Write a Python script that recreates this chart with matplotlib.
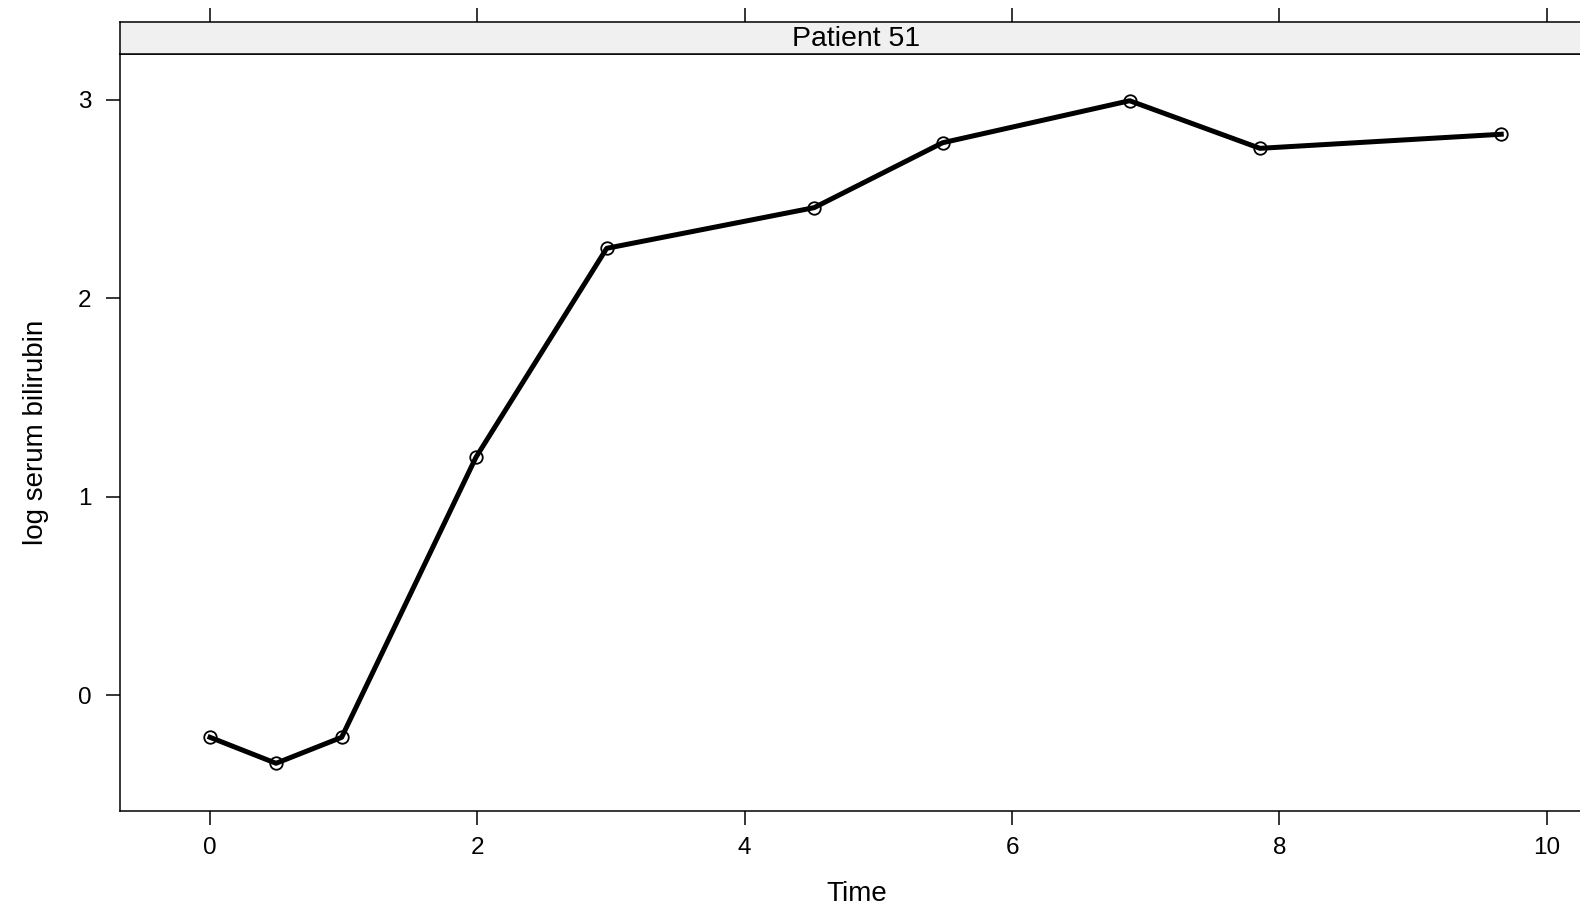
import matplotlib
matplotlib.use("Agg")
import matplotlib.pyplot as plt

# Data (Patient 51)
time = [0.0, 0.494, 0.985, 1.99, 2.968, 4.52, 5.48, 6.88, 7.855, 9.66]
log_bili = [-0.213, -0.344, -0.213, 1.199, 2.252, 2.457, 2.784, 2.996, 2.756, 2.827]
xticks = [0, 2, 4, 6, 8, 10]
yticks = [0, 1, 2, 3]
panel_title = "Patient 51"
xlabel = "Time"
ylabel = "log serum bilirubin"

plt.rcParams['font.family'] = ['Liberation Sans', 'DejaVu Sans']

W, H = 1580, 906
fig = plt.figure(figsize=(W / 100, H / 100), dpi=100)

left = 119.5 / W
right_px = 1593.5
bottom = (H - 810.7) / H
top = (H - 54.3) / H
strip_top = (H - 21.7) / H

ax = fig.add_axes([left, bottom, (right_px - 119.5) / W, top - bottom])
ax.plot(time, log_bili, color='black', linewidth=3.6, marker='o',
        markersize=9, markerfacecolor='none', markeredgecolor='black',
        markeredgewidth=1.3, zorder=3)
ax.set_xlim(-0.677, 10.35)
ax.set_ylim(-0.583, 3.23)
ax.set_xticks(xticks)
ax.set_yticks(yticks)
ax.tick_params(axis='both', direction='out', length=10, width=1.1,
               labelsize=17.5, pad=9, top=False, right=False)
ax.tick_params(axis='y', pad=10)
for s in ax.spines.values():
    s.set_linewidth(1.1)
ax.set_xlabel(xlabel, fontsize=20, labelpad=16)
ax.set_ylabel(ylabel, fontsize=20, labelpad=21)

# strip
sax = fig.add_axes([left, top, (right_px - 119.5) / W, strip_top - top])
sax.set_facecolor('#f0f0f0')
sax.set_xlim(ax.get_xlim())
sax.set_ylim(0, 1)
sax.set_yticks([])
sax.set_xticks(xticks)
sax.tick_params(axis='x', direction='out', length=10, width=1.1,
                bottom=False, top=True, labelbottom=False, labeltop=False)
for s in sax.spines.values():
    s.set_linewidth(1.1)
sax.text(0.5, 0.47, panel_title, transform=sax.transAxes, ha='center',
         va='center', fontsize=20.5)

fig.savefig('out.png', dpi=100)
